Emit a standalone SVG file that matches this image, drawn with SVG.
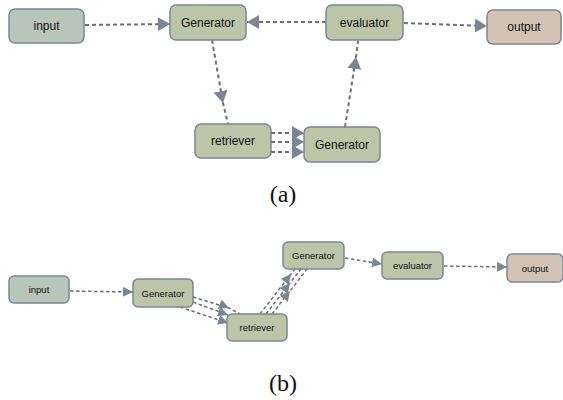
<svg xmlns="http://www.w3.org/2000/svg" width="563" height="400" viewBox="0 0 563 400">
<style>
.n rect{stroke:#7b8794;stroke-width:1.5}
.in rect{fill:#b8c5b9}
.gen rect{fill:#bcc5a8}
.out rect{fill:#d3c3b5}
.ta{font-family:"Liberation Sans",Arial,sans-serif;font-size:12px;fill:#111;text-anchor:middle;dominant-baseline:central}
.tb{font-family:"Liberation Sans",Arial,sans-serif;font-size:9.5px;fill:#111;text-anchor:middle;dominant-baseline:central}
.ca path{fill:none;stroke:#6f6f70;stroke-width:2;stroke-dasharray:4 3}
.cb path{fill:none;stroke:#6f6f70;stroke-width:1.5;stroke-dasharray:3.5 2.5}
.cap{font-family:"Liberation Serif","Times New Roman",serif;font-size:24px;fill:#111;text-anchor:middle}
</style>
<defs>
<marker id="ma" markerUnits="userSpaceOnUse" markerWidth="13" markerHeight="14" refX="12" refY="7" orient="auto" viewBox="0 0 13 14"><path d="M0,0 L12,7 L0,14 Z" fill="#7b8694"/></marker>
<marker id="mb" markerUnits="userSpaceOnUse" markerWidth="11" markerHeight="10" refX="10" refY="5" orient="auto" viewBox="0 0 11 10"><path d="M0,0 L10,5 L0,10 Z" fill="#7b8694"/></marker>
</defs>
<g id="connectors-a" class="ca">
<path d="M85,25 L170,24" marker-end="url(#ma)"/>
<path d="M326,22 L247,22" marker-end="url(#ma)"/>
<path d="M404,23 L487,26" marker-end="url(#ma)"/>
<path d="M212,40 L223,103 L228,124" marker-mid="url(#ma)"/>
<path d="M345,127 L356,57 L358,41" marker-mid="url(#ma)"/>
<path d="M271,133 L304,133" marker-end="url(#ma)"/>
<path d="M271,142 L304,142" marker-end="url(#ma)"/>
<path d="M271,152 L304,152" marker-end="url(#ma)"/>
</g>
<g id="input-a" class="n in"><rect x="9" y="9" width="75" height="34" rx="6"/><text class="ta" x="46.5" y="26">input</text></g>
<g id="generator-a" class="n gen"><rect x="170" y="5" width="76" height="35" rx="6"/><text class="ta" x="208" y="22.5">Generator</text></g>
<g id="evaluator-a" class="n gen"><rect x="326" y="5" width="77" height="35" rx="6"/><text class="ta" x="364.5" y="22.5">evaluator</text></g>
<g id="output-a" class="n out"><rect x="487" y="10" width="74" height="34" rx="6"/><text class="ta" x="524" y="27">output</text></g>
<g id="retriever-a" class="n gen"><rect x="195" y="124" width="76" height="34" rx="6"/><text class="ta" x="233" y="141">retriever</text></g>
<g id="generator2-a" class="n gen"><rect x="304" y="127" width="76" height="35" rx="6"/><text class="ta" x="342" y="144.5">Generator</text></g>
<text class="cap" x="283" y="202">(a)</text>
<g id="connectors-b" class="cb">
<path d="M70,291 L133,292" marker-end="url(#mb)"/>
<path d="M193,297 L229,308 L240,314" marker-mid="url(#mb)"/>
<path d="M193,302 L228,315" marker-end="url(#mb)"/>
<path d="M180,307 L228,323" marker-end="url(#mb)"/>
<path d="M260,314 L291,274 L295,269" marker-mid="url(#mb)"/>
<path d="M266,314 L290,283 L301,269" marker-mid="url(#mb)"/>
<path d="M272,314 L290,291 L307,269" marker-mid="url(#mb)"/>
<path d="M345,258 L382,264" marker-end="url(#mb)"/>
<path d="M444,266 L507,267" marker-end="url(#mb)"/>
</g>
<g id="input-b" class="n in"><rect x="9" y="276" width="60" height="27" rx="5"/><text class="tb" x="39" y="289.5">input</text></g>
<g id="generator-b" class="n gen"><rect x="133" y="279" width="60" height="28" rx="5"/><text class="tb" x="163" y="293">Generator</text></g>
<g id="retriever-b" class="n gen"><rect x="227" y="314" width="60" height="27" rx="5"/><text class="tb" x="257" y="327.5">retriever</text></g>
<g id="generator2-b" class="n gen"><rect x="283" y="242" width="61" height="27" rx="5"/><text class="tb" x="313.5" y="255.5">Generator</text></g>
<g id="evaluator-b" class="n gen"><rect x="382" y="252" width="61" height="27" rx="5"/><text class="tb" x="412.5" y="265.5">evaluator</text></g>
<g id="output-b" class="n out"><rect x="507" y="254" width="56" height="28" rx="5"/><text class="tb" x="535" y="268">output</text></g>
<text class="cap" x="283" y="391">(b)</text>
</svg>
